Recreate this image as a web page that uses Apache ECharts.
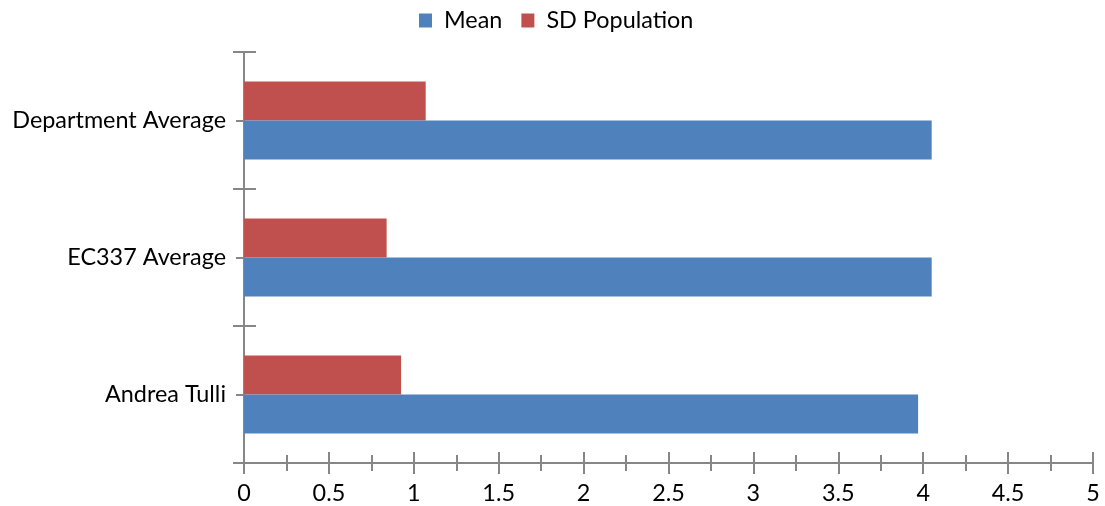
<!DOCTYPE html>
<html>
<head>
<meta charset="utf-8">
<script src="https://cdn.jsdelivr.net/npm/echarts@6/dist/echarts.min.js"></script>
<style>html,body{margin:0;padding:0;background:#fff;}#c{width:1105px;height:506px;}</style>
</head>
<body>
<div id="c"></div>
<script>
const categories = ['Andrea Tulli', 'EC337 Average', 'Department Average'];
const meanValues = [3.97, 4.05, 4.05];
const sdValues = [0.925, 0.84, 1.07];
const xTickMin = 0, xTickMax = 5, xTickInterval = 0.5;

const axisColor = '#878787';
const font = 'Lato';
const fs = 23.4;

const chart = echarts.init(document.getElementById('c'), null, {renderer: 'canvas'});
chart.setOption({
  animation: false,
  backgroundColor: '#fff',
  textStyle: {fontFamily: font},
  legend: {
    top: 4, left: 414,
    itemWidth: 13, itemHeight: 14, itemGap: 19,
    icon: 'rect',
    textStyle: {fontFamily: font, fontSize: fs, color: '#000', padding: [0,0,0,7]},
    data: ['Mean', 'SD Population']
  },
  grid: {left: 244, right: 12, top: 52, bottom: 43, containLabel: false},
  xAxis: [
    {
      type: 'value', min: xTickMin, max: xTickMax, interval: xTickInterval, position: 'bottom',
      axisLine: {show: true, lineStyle: {color: axisColor, width: 2}},
      axisTick: {show: true, length: 11, lineStyle: {color: axisColor, width: 2}},
      minorTick: {show: true, splitNumber: 2, length: 8, lineStyle: {color: axisColor, width: 2}},
      splitLine: {show: false},
      axisLabel: {fontFamily: font, fontSize: fs, color: '#000', margin: 19}
    },
    {
      type: 'value', min: xTickMin, max: xTickMax, interval: xTickInterval, position: 'bottom',
      axisLine: {show: false},
      axisTick: {show: true, inside: true, length: 11, lineStyle: {color: axisColor, width: 2}},
      minorTick: {show: true, splitNumber: 2, length: 8, lineStyle: {color: axisColor, width: 2}},
      splitLine: {show: false},
      axisLabel: {show: false}
    }
  ],
  yAxis: [
    {
      type: 'category', data: categories, boundaryGap: true, position: 'left',
      axisLine: {show: true, lineStyle: {color: axisColor, width: 2}},
      axisTick: {show: true, length: 11, lineStyle: {color: axisColor, width: 2}},
      axisLabel: {fontFamily: font, fontSize: fs, color: '#000', margin: 18}
    },
    {
      type: 'category', data: categories, boundaryGap: true, position: 'left',
      axisLine: {show: false},
      axisTick: {show: true, inside: true, length: 12, lineStyle: {color: axisColor, width: 2}},
      axisLabel: {show: false}
    },
    {
      type: 'category', data: categories, boundaryGap: true, position: 'left',
      axisLine: {show: false},
      axisTick: {show: true, alignWithLabel: true, length: 8, lineStyle: {color: axisColor, width: 2}},
      axisLabel: {show: false}
    }
  ],
  series: [
    {
      name: 'SD Population', type: 'bar', xAxisIndex: 0, yAxisIndex: 0, data: sdValues,
      itemStyle: {color: '#C0504D'}, barGap: '0%', barCategoryGap: '43%'
    },
    {
      name: 'Mean', type: 'bar', xAxisIndex: 0, yAxisIndex: 0, data: meanValues,
      itemStyle: {color: '#4F81BD'}, barGap: '0%', barCategoryGap: '43%'
    }
  ]
});
</script>
</body>
</html>
